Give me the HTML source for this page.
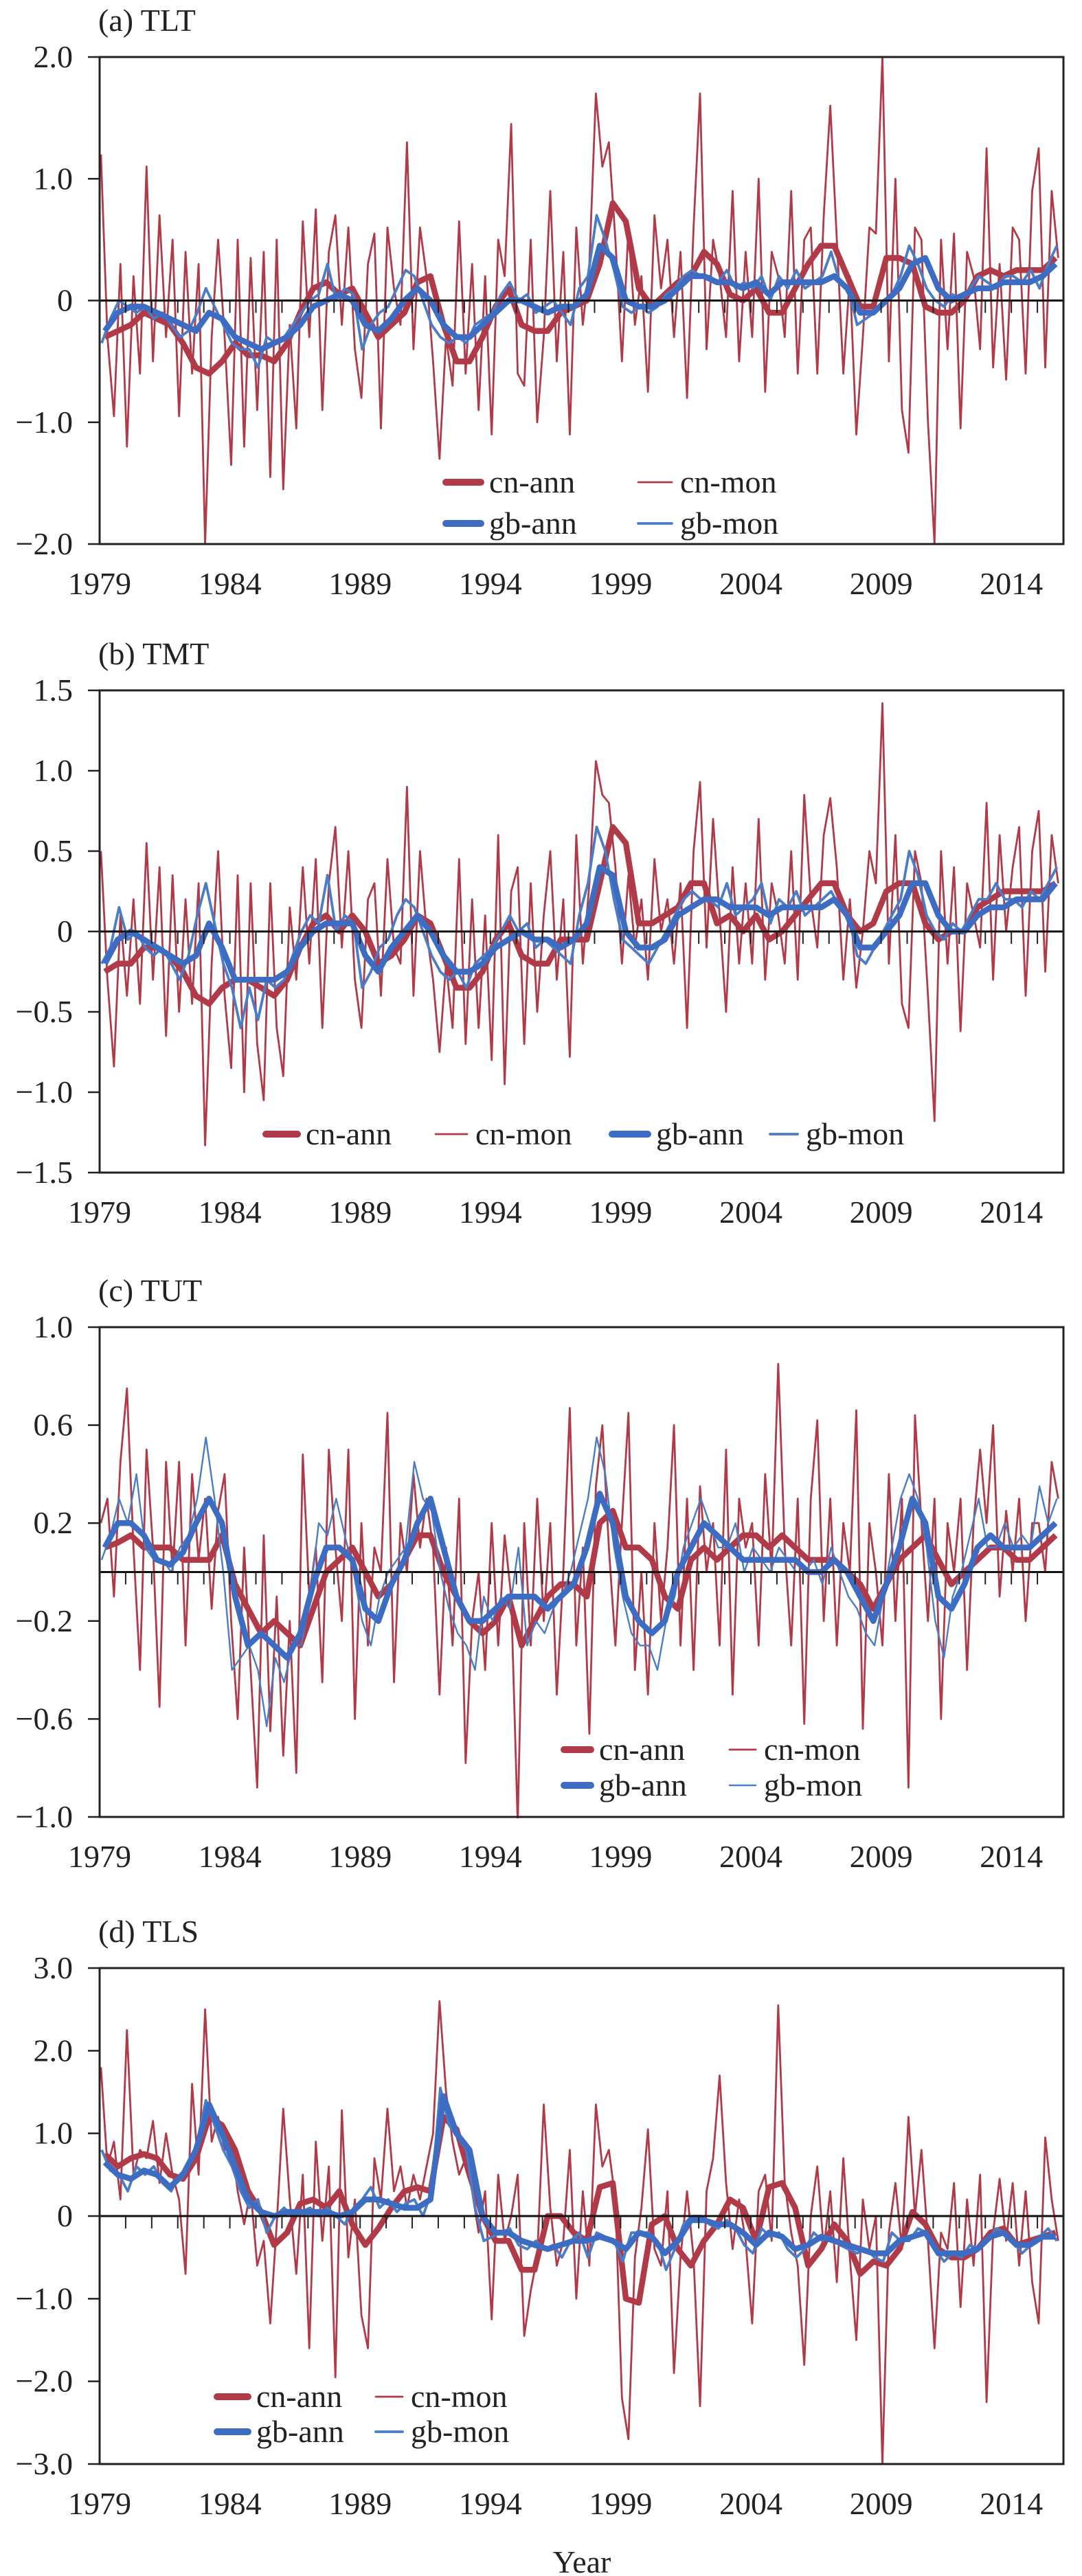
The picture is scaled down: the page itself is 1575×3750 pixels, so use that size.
<!DOCTYPE html>
<html><head><meta charset="utf-8"><style>
html,body{margin:0;padding:0;background:#fff}
svg{display:block}
text{font-family:"Liberation Serif",serif;fill:#222}
</style></head><body>
<svg id="fig" width="1575" height="3750" viewBox="0 0 1575 3750" xmlns="http://www.w3.org/2000/svg"></svg>
<script>
const years=['1979','1984','1989','1994','1999','2004','2009','2014'];
// Panel (a) TLT
const tltCnMon=[1.2,-0.3,-0.95,0.3,-1.2,0.2,-0.6,1.1,-0.5,0.7,-0.3,0.5,-0.95,0.4,-0.6,0.3,-2.0,-0.3,0.5,-0.3,-1.35,0.5,-1.2,0.35,-0.9,0.4,-1.45,0.5,-1.55,-0.2,-1.05,0.65,-0.3,0.75,-0.9,0.4,0.7,-0.2,0.6,-0.4,-0.8,0.3,0.55,-1.05,0.6,0.1,-0.2,1.3,-0.4,0.6,0.2,-0.5,-1.3,-0.3,-0.7,0.65,-0.6,0.3,-0.9,0.2,-1.1,0.5,0.2,1.45,-0.6,-0.7,0.5,-1.0,-0.3,0.9,-0.5,0.4,-1.1,0.6,-0.2,0.3,1.7,1.1,1.3,0.5,-0.5,0.6,-0.2,0.2,-0.75,0.7,0.1,0.5,-0.3,0.4,-0.8,0.6,1.7,-0.4,0.5,0.2,-0.3,0.9,-0.5,0.4,-0.3,1.0,-0.75,0.4,0.2,-0.3,0.9,-0.6,0.5,0.6,-0.6,0.7,1.6,0.5,-0.6,0.2,-1.1,-0.3,0.6,0.55,2.0,-0.5,1.0,-0.9,-1.25,0.6,0.5,-1.0,-2.0,0.5,-0.4,0.55,-1.05,0.4,0.2,-0.4,1.25,-0.55,0.3,-0.65,0.6,0.5,-0.6,0.9,1.25,-0.55,0.9,0.35];
const tltGbMon=[-0.35,-0.15,0.0,-0.05,-0.1,-0.05,-0.15,-0.1,-0.2,-0.3,-0.25,-0.1,0.1,-0.05,-0.2,-0.35,-0.4,-0.4,-0.55,-0.3,-0.35,-0.3,-0.2,-0.1,0.0,0.05,0.3,0.0,0.1,0.05,-0.4,-0.2,-0.1,-0.05,0.1,0.25,0.2,0.0,-0.2,-0.3,-0.35,-0.3,-0.35,-0.2,-0.15,-0.1,0.05,0.15,0.0,0.05,-0.1,-0.05,0.0,-0.1,-0.2,0.1,0.2,0.7,0.5,0.25,-0.05,-0.1,-0.05,-0.1,-0.05,0.05,0.1,0.2,0.25,0.2,0.2,0.15,0.25,0.1,0.15,0.1,0.2,0.0,0.2,0.1,0.25,0.1,0.15,0.2,0.4,0.15,0.1,-0.2,-0.15,-0.1,0.0,0.05,0.2,0.45,0.3,0.1,0.0,-0.05,0.05,0.0,0.1,0.2,0.15,0.1,0.2,0.2,0.15,0.25,0.1,0.3,0.45];
const tltCnAnn=[-0.3,-0.25,-0.2,-0.1,-0.15,-0.2,-0.35,-0.55,-0.6,-0.5,-0.35,-0.45,-0.45,-0.5,-0.35,-0.1,0.1,0.15,0.05,0.1,-0.1,-0.3,-0.2,-0.1,0.15,0.2,-0.2,-0.5,-0.5,-0.3,-0.05,0.1,-0.2,-0.25,-0.25,-0.1,-0.05,0.0,0.3,0.8,0.65,0.1,-0.05,0.05,0.15,0.2,0.4,0.3,0.05,0.0,0.1,-0.1,-0.1,0.1,0.3,0.45,0.45,0.2,-0.05,-0.05,0.35,0.35,0.3,-0.05,-0.1,-0.1,0.0,0.2,0.25,0.2,0.25,0.25,0.25,0.35];
const tltGbAnn=[-0.25,-0.1,-0.05,-0.05,-0.1,-0.15,-0.2,-0.25,-0.1,-0.15,-0.3,-0.35,-0.4,-0.35,-0.3,-0.2,-0.05,0.0,0.05,0.0,-0.2,-0.25,-0.15,0.0,0.1,0.0,-0.2,-0.3,-0.3,-0.2,-0.1,0.0,0.0,-0.05,-0.1,-0.05,-0.05,0.05,0.45,0.35,0.0,-0.05,-0.05,0.0,0.1,0.2,0.2,0.15,0.15,0.1,0.15,0.05,0.15,0.15,0.15,0.15,0.2,0.1,-0.1,-0.1,0.0,0.1,0.3,0.35,0.1,0.0,0.05,0.1,0.1,0.15,0.15,0.15,0.2,0.3];
// Panel (b) TMT
const tmtCnMon=[0.5,-0.3,-0.84,0.1,-0.4,0.2,-0.45,0.55,-0.3,0.4,-0.65,0.35,-0.5,0.2,-0.45,0.3,-1.33,-0.2,0.5,-0.4,-0.85,0.35,-1.0,0.3,-0.7,-1.05,0.3,-0.6,-0.9,0.15,-0.3,0.4,-0.2,0.45,-0.6,0.3,0.65,-0.1,0.5,-0.3,-0.6,0.2,0.3,-0.4,0.45,-0.1,-0.2,0.9,-0.4,0.5,0.0,-0.3,-0.75,-0.2,-0.6,0.45,-0.7,0.2,-0.6,0.1,-0.8,0.6,-0.95,0.25,0.4,-0.7,0.3,-0.5,0.1,0.5,-0.3,0.2,-0.78,0.6,-0.2,0.3,1.06,0.85,0.8,0.4,-0.2,0.35,-0.1,0.2,-0.3,0.45,0.0,0.2,-0.2,0.3,-0.6,0.5,0.93,-0.1,0.7,0.1,-0.5,0.4,-0.2,0.3,-0.2,0.7,-0.3,0.3,0.1,-0.2,0.5,-0.3,0.85,0.2,-0.1,0.6,0.83,0.4,-0.3,0.2,-0.35,0.0,0.5,0.3,1.42,-0.2,0.6,-0.45,-0.6,0.5,0.3,-0.4,-1.18,0.5,-0.2,0.4,-0.62,0.3,0.1,-0.1,0.8,-0.3,0.6,0.0,0.4,0.65,-0.4,0.5,0.75,-0.25,0.6,0.3];
const tmtGbMon=[-0.2,-0.1,0.15,-0.05,0.0,-0.1,-0.15,-0.1,-0.2,-0.3,-0.15,0.1,0.3,0.05,-0.2,-0.35,-0.6,-0.35,-0.55,-0.3,-0.35,-0.3,-0.15,0.0,0.1,0.05,0.35,0.0,0.1,0.05,-0.35,-0.25,-0.1,-0.05,0.1,0.2,0.15,0.0,-0.15,-0.25,-0.3,-0.25,-0.35,-0.2,-0.15,-0.1,0.0,0.1,0.0,0.05,-0.1,-0.05,-0.1,-0.15,-0.2,0.1,0.3,0.65,0.5,0.2,-0.05,-0.1,-0.15,-0.2,-0.1,0.0,0.1,0.2,0.25,0.2,0.2,0.15,0.3,0.1,0.15,0.2,0.3,0.05,0.2,0.15,0.25,0.1,0.15,0.2,0.25,0.15,0.1,-0.15,-0.2,-0.1,0.0,0.1,0.2,0.5,0.35,0.1,0.0,-0.05,0.05,0.0,0.1,0.2,0.2,0.3,0.2,0.2,0.15,0.25,0.2,0.3,0.4];
const tmtCnAnn=[-0.25,-0.2,-0.2,-0.1,-0.1,-0.15,-0.25,-0.4,-0.45,-0.35,-0.3,-0.3,-0.35,-0.4,-0.3,-0.1,0.05,0.1,0.0,0.1,0.0,-0.2,-0.15,-0.05,0.1,0.05,-0.15,-0.35,-0.35,-0.25,-0.05,0.05,-0.15,-0.2,-0.2,-0.05,-0.05,-0.05,0.3,0.65,0.55,0.05,0.05,0.1,0.15,0.3,0.3,0.05,0.1,0.0,0.1,-0.05,0.0,0.1,0.2,0.3,0.3,0.1,0.0,0.05,0.25,0.3,0.3,0.05,-0.05,0.0,0.0,0.15,0.2,0.25,0.25,0.25,0.25,0.3];
const tmtGbAnn=[-0.2,-0.05,0.0,-0.05,-0.1,-0.15,-0.2,-0.15,0.05,-0.1,-0.3,-0.3,-0.3,-0.3,-0.25,-0.1,0.0,0.05,0.05,0.05,-0.15,-0.25,-0.1,0.0,0.1,0.0,-0.15,-0.25,-0.25,-0.2,-0.1,-0.05,0.0,-0.05,-0.05,-0.1,-0.05,0.05,0.4,0.35,0.0,-0.1,-0.1,-0.05,0.1,0.15,0.2,0.2,0.15,0.15,0.15,0.1,0.15,0.15,0.15,0.15,0.2,0.1,-0.1,-0.1,0.0,0.1,0.3,0.3,0.1,0.0,0.0,0.1,0.15,0.15,0.2,0.2,0.2,0.3];
// Panel (c) TUT
const tutCnMon=[0.2,0.3,-0.1,0.45,0.75,0.1,-0.4,0.5,0.1,-0.55,0.45,0.0,0.45,-0.3,0.4,0.05,0.3,-0.15,0.25,0.4,-0.2,-0.6,0.1,-0.4,-0.88,0.15,-0.65,-0.1,-0.75,-0.2,-0.82,0.48,-0.1,0.1,-0.45,0.5,0.1,-0.2,0.5,-0.6,0.2,-0.3,0.1,0.0,0.65,-0.45,0.2,0.0,0.4,0.1,0.3,0.1,-0.5,0.1,-0.3,0.3,-0.78,-0.2,0.0,-0.4,0.2,-0.3,0.15,-0.1,-1.03,0.2,-0.3,0.3,-0.2,0.2,-0.5,0.0,0.67,-0.3,0.1,-0.66,0.35,0.6,0.1,-0.3,0.2,0.65,-0.4,0.0,-0.5,0.2,-0.2,0.1,0.6,-0.3,0.3,-0.4,0.35,0.0,0.2,-0.3,0.5,-0.5,0.3,0.1,0.2,-0.3,0.4,0.0,0.85,0.1,-0.3,0.3,-0.62,0.3,0.62,-0.2,0.3,-0.3,0.2,0.0,0.66,-0.64,0.2,0.0,-0.3,0.4,-0.2,0.3,-0.88,0.64,0.2,-0.2,0.3,-0.6,0.2,0.0,0.3,-0.4,0.2,0.5,0.2,0.6,-0.1,0.25,0.0,0.3,-0.2,0.2,0.2,0.0,0.45,0.3];
const tutGbMon=[0.05,0.15,0.3,0.2,0.4,0.1,0.05,0.05,0.0,0.1,0.15,0.3,0.55,0.3,0.0,-0.4,-0.35,-0.3,-0.4,-0.63,-0.35,-0.45,-0.3,-0.3,-0.1,0.2,0.15,0.3,0.15,0.0,-0.2,-0.3,-0.1,0.0,0.05,0.1,0.45,0.3,0.25,0.0,-0.15,-0.25,-0.3,-0.4,-0.1,-0.2,-0.1,-0.15,0.1,-0.3,-0.2,-0.25,-0.15,-0.1,0.0,0.15,0.3,0.55,0.4,0.1,-0.1,-0.25,-0.3,-0.3,-0.4,-0.2,-0.1,0.1,0.2,0.3,0.2,0.1,0.1,0.2,0.0,0.1,0.05,0.0,0.1,0.05,0.0,0.0,0.05,-0.05,0.1,0.0,-0.1,-0.15,-0.25,-0.3,-0.1,0.1,0.3,0.4,0.3,0.1,-0.2,-0.35,-0.1,0.0,0.15,0.3,0.1,0.1,0.2,0.1,0.15,0.1,0.35,0.2,0.3];
const tutCnAnn=[0.1,0.12,0.15,0.1,0.1,0.1,0.05,0.05,0.05,0.15,-0.05,-0.15,-0.25,-0.2,-0.25,-0.3,-0.15,0.0,0.05,0.1,0.0,-0.1,-0.05,0.05,0.15,0.15,0.0,-0.1,-0.2,-0.25,-0.2,-0.1,-0.3,-0.2,-0.1,-0.05,-0.05,-0.1,0.2,0.25,0.1,0.1,0.05,-0.1,-0.15,0.05,0.1,0.05,0.1,0.15,0.15,0.1,0.15,0.1,0.05,0.05,0.05,0.0,-0.05,-0.15,-0.05,0.05,0.1,0.15,0.05,-0.05,0.0,0.05,0.1,0.1,0.05,0.05,0.1,0.15];
const tutGbAnn=[0.1,0.2,0.2,0.15,0.05,0.03,0.08,0.2,0.3,0.2,-0.1,-0.3,-0.25,-0.3,-0.35,-0.25,-0.05,0.1,0.1,0.05,-0.15,-0.2,-0.05,0.05,0.2,0.3,0.1,-0.1,-0.2,-0.2,-0.15,-0.1,-0.1,-0.1,-0.15,-0.1,-0.05,0.1,0.32,0.2,-0.1,-0.2,-0.25,-0.2,0.0,0.1,0.2,0.15,0.1,0.05,0.05,0.05,0.05,0.05,0.0,0.0,0.05,0.0,-0.1,-0.2,-0.05,0.1,0.3,0.2,-0.1,-0.15,-0.05,0.1,0.15,0.1,0.1,0.1,0.15,0.2];
// Panel (d) TLS
const tlsCnMon=[1.8,0.6,0.9,0.2,2.25,0.5,0.8,0.7,1.15,0.4,1.0,0.5,0.2,-0.7,1.6,0.5,2.5,0.9,1.2,0.8,0.9,0.3,-0.1,0.3,-0.6,-0.3,-1.3,-0.1,1.3,0.2,-0.7,0.5,-1.6,0.9,-0.3,0.6,-1.95,1.28,-0.5,0.2,-1.2,-1.6,0.7,0.2,1.3,0.3,0.6,0.1,0.5,0.2,0.6,1.0,2.6,1.5,0.9,0.5,0.7,0.3,-0.2,0.3,-1.25,0.5,-0.3,0.0,0.5,-1.45,-0.9,-0.5,1.35,0.1,-0.6,-0.3,0.8,-1.0,0.3,-0.6,1.35,0.6,0.8,0.2,-2.2,-2.7,-0.5,0.1,1.05,-0.4,-0.6,0.3,-1.9,-0.5,0.3,-0.5,-2.3,0.3,0.7,1.7,0.4,-0.4,0.2,-0.3,-1.3,0.3,0.5,-0.3,2.55,0.4,-0.2,-0.6,-1.8,0.0,0.6,-0.4,0.3,-0.8,0.7,-0.5,-1.5,0.2,-0.4,0.0,-3.0,-0.2,0.4,-0.4,1.2,0.0,0.8,-0.3,-1.6,-0.2,-0.4,0.4,-1.1,0.2,-0.6,0.5,-2.25,-0.2,0.45,-0.3,0.4,-0.6,0.3,-0.8,-1.3,0.95,0.2,-0.3];
const tlsGbMon=[0.8,0.55,0.5,0.3,0.6,0.5,0.6,0.4,0.3,0.5,0.6,0.9,1.4,1.1,0.8,0.6,0.3,0.1,0.2,-0.2,0.0,0.1,0.0,0.05,0.1,0.0,0.1,0.0,-0.1,0.1,0.2,0.35,0.1,0.2,0.05,0.15,0.2,0.0,0.3,1.55,1.1,0.95,0.8,0.1,-0.3,-0.25,-0.2,-0.15,-0.35,-0.4,-0.3,-0.4,-0.35,-0.5,-0.3,-0.2,-0.5,-0.2,-0.25,-0.3,-0.55,-0.2,-0.2,-0.2,-0.3,-0.65,-0.4,-0.1,0.0,0.0,-0.1,-0.15,-0.05,-0.15,-0.35,-0.45,-0.15,-0.25,-0.2,-0.4,-0.5,-0.4,-0.2,-0.3,-0.25,-0.35,-0.4,-0.45,-0.4,-0.5,-0.55,-0.2,-0.3,-0.3,-0.15,-0.2,-0.4,-0.55,-0.45,-0.5,-0.35,-0.4,-0.3,-0.15,-0.2,-0.3,-0.45,-0.35,-0.25,-0.15,-0.3];
const tlsCnAnn=[0.75,0.6,0.7,0.75,0.7,0.5,0.45,0.7,1.2,1.1,0.8,0.3,0.05,-0.35,-0.2,0.15,0.2,0.1,0.3,-0.1,-0.35,-0.15,0.1,0.3,0.35,0.3,1.2,1.05,0.5,0.0,-0.3,-0.3,-0.65,-0.65,0.0,0.0,-0.2,-0.3,0.35,0.4,-1.0,-1.05,-0.1,0.0,-0.4,-0.6,-0.3,-0.1,0.2,0.1,-0.3,0.35,0.4,0.1,-0.6,-0.4,-0.1,-0.3,-0.7,-0.55,-0.6,-0.4,0.05,-0.1,-0.4,-0.5,-0.5,-0.4,-0.2,-0.15,-0.35,-0.3,-0.25,-0.2];
const tlsGbAnn=[0.65,0.5,0.45,0.55,0.5,0.35,0.5,0.8,1.35,1.0,0.6,0.2,0.05,0.0,0.05,0.05,0.05,0.05,0.0,0.05,0.2,0.2,0.15,0.1,0.1,0.2,1.45,1.0,0.8,0.0,-0.2,-0.2,-0.3,-0.35,-0.4,-0.35,-0.3,-0.3,-0.25,-0.3,-0.4,-0.2,-0.25,-0.45,-0.3,-0.05,-0.05,-0.1,-0.1,-0.2,-0.35,-0.2,-0.25,-0.4,-0.35,-0.25,-0.3,-0.35,-0.4,-0.45,-0.45,-0.3,-0.25,-0.2,-0.45,-0.45,-0.45,-0.4,-0.25,-0.2,-0.35,-0.35,-0.25,-0.25];

const NS='http://www.w3.org/2000/svg';
const svg=document.getElementById('fig');
const X0=145,X1=1548,T0=1979,T1=2016;
const RED='#B03A48',BLUE='#3C6DC2',BLUE2='#4A7CC8';
function xs(t){return X0+(t-T0)/(T1-T0)*(X1-X0);}
function mk(tag,attrs,parent){const e=document.createElementNS(NS,tag);for(const k in attrs)e.setAttribute(k,attrs[k]);(parent||svg).appendChild(e);return e;}

const panels=[
 {key:'tlt',title:'(a) TLT',top:83,bot:792,min:-2,max:2,ticks:[2,1,0,-1,-2],labels:['2.0','1.0','0','\u22121.0','\u22122.0'],
  cm:tltCnMon,gm:tltGbMon,ca:tltCnAnn,ga:tltGbAnn,gmw:3.8,
  legend:[[645,702,712,'cn-ann','ca'],[925,702,990,'cn-mon','cm'],[645,762,712,'gb-ann','ga'],[925,762,990,'gb-mon','gm']]},
 {key:'tmt',title:'(b) TMT',top:1005,bot:1707,min:-1.5,max:1.5,ticks:[1.5,1,0.5,0,-0.5,-1,-1.5],labels:['1.5','1.0','0.5','0','\u22120.5','\u22121.0','\u22121.5'],
  cm:tmtCnMon,gm:tmtGbMon,ca:tmtCnAnn,ga:tmtGbAnn,gmw:3.8,
  legend:[[383,1651,445,'cn-ann','ca'],[630,1651,692,'cn-mon','cm'],[887,1651,955,'gb-ann','ga'],[1117,1651,1173,'gb-mon','gm']]},
 {key:'tut',title:'(c) TUT',top:1932,bot:2645,min:-1,max:1,ticks:[1,0.6,0.2,-0.2,-0.6,-1],labels:['1.0','0.6','0.2','\u22120.2','\u22120.6','\u22121.0'],
  cm:tutCnMon,gm:tutGbMon,ca:tutCnAnn,ga:tutGbAnn,gmw:2.4,
  legend:[[817,2547,872,'cn-ann','ca'],[1058,2547,1112,'cn-mon','cm'],[817,2599,872,'gb-ann','ga'],[1058,2599,1112,'gb-mon','gm']]},
 {key:'tls',title:'(d) TLS',top:2865,bot:3587,min:-3,max:3,ticks:[3,2,1,0,-1,-2,-3],labels:['3.0','2.0','1.0','0','\u22121.0','\u22122.0','\u22123.0'],
  cm:tlsCnMon,gm:tlsGbMon,ca:tlsCnAnn,ga:tlsGbAnn,gmw:3.8,
  legend:[[312,3489,373,'cn-ann','ca'],[543,3489,598,'cn-mon','cm'],[312,3540,373,'gb-ann','ga'],[543,3540,598,'gb-mon','gm']]}
];

panels.forEach(p=>{
  const g=mk('g',{});
  
  
  const ys=v=>p.bot-(v-p.min)/(p.max-p.min)*(p.bot-p.top);
  const ti=mk('text',{x:143,y:p.top-38,'font-size':46},g);ti.textContent=p.title;
  
  p.ticks.forEach((v,i)=>{
    const y=ys(v);
    const tk=mk('line',{x1:128,x2:145,y1:y,y2:y,stroke:'#222','stroke-width':2.5},g);
    
    const t=mk('text',{x:106,y:y+15,'font-size':46,'text-anchor':'end'},g);t.textContent=p.labels[i];
    
  });
  const clipId='clip-'+p.key;
  const cp=mk('clipPath',{id:clipId},g);mk('rect',{x:X0,y:p.top-2,width:X1-X0,height:p.bot-p.top+4},cp);
  function line(arr,perYear,off,color,w,name){
    const pts=arr.map((v,i)=>xs(T0+i/perYear+off).toFixed(1)+','+ys(v).toFixed(1)).join(' ');
    const pl=mk('polyline',{points:pts,fill:'none',stroke:color,'stroke-width':w,'stroke-linejoin':'round','clip-path':'url(#'+clipId+')'},g);
    
  }
  line(p.cm,4,0.05,RED,2.8,p.key+'-cn-mon-line');
  line(p.ca,2,0.2,RED,8.5,p.key+'-cn-ann-line');
  line(p.gm,3,0.08,BLUE2,p.gmw,p.key+'-gb-mon-line');
  line(p.ga,2,0.2,BLUE,8.5,p.key+'-gb-ann-line');
  const z=ys(0);
  const zl=mk('line',{x1:X0,x2:X1,y1:z,y2:z,stroke:'#111','stroke-width':3},g);
  
  for(let yr=1980;yr<2016;yr++){
    const x=xs(yr);
    const yt=mk('line',{x1:x,x2:x,y1:z,y2:z+18,stroke:'#222','stroke-width':2},g);
    
  }
  const fr=mk('rect',{x:X0,y:p.top,width:X1-X0,height:p.bot-p.top,fill:'none',stroke:'#222','stroke-width':3},g);
  
  years.forEach((s,i)=>{
    const t=mk('text',{x:xs(1979+5*i),y:p.bot+73,'font-size':46,'text-anchor':'middle'},g);t.textContent=s;
    
  });
  const styles={ca:[RED,10],cm:[RED,2.8],ga:[BLUE,10],gm:[BLUE2,p.gmw]};
  p.legend.forEach(L=>{
    const lg=mk('g',{},g);
    
    
    const st=styles[L[4]];
    mk('line',{x1:L[0]+4,x2:L[2]-12,y1:L[1],y2:L[1],stroke:st[0],'stroke-width':st[1],'stroke-linecap':'round'},lg);
    const t=mk('text',{x:L[2],y:L[1]+15,'font-size':46},lg);t.textContent=L[3];
  });
});
const yl=mk('text',{x:847,y:3745,'font-size':46,'text-anchor':'middle'});yl.textContent='Year';


</script>
</body></html>
